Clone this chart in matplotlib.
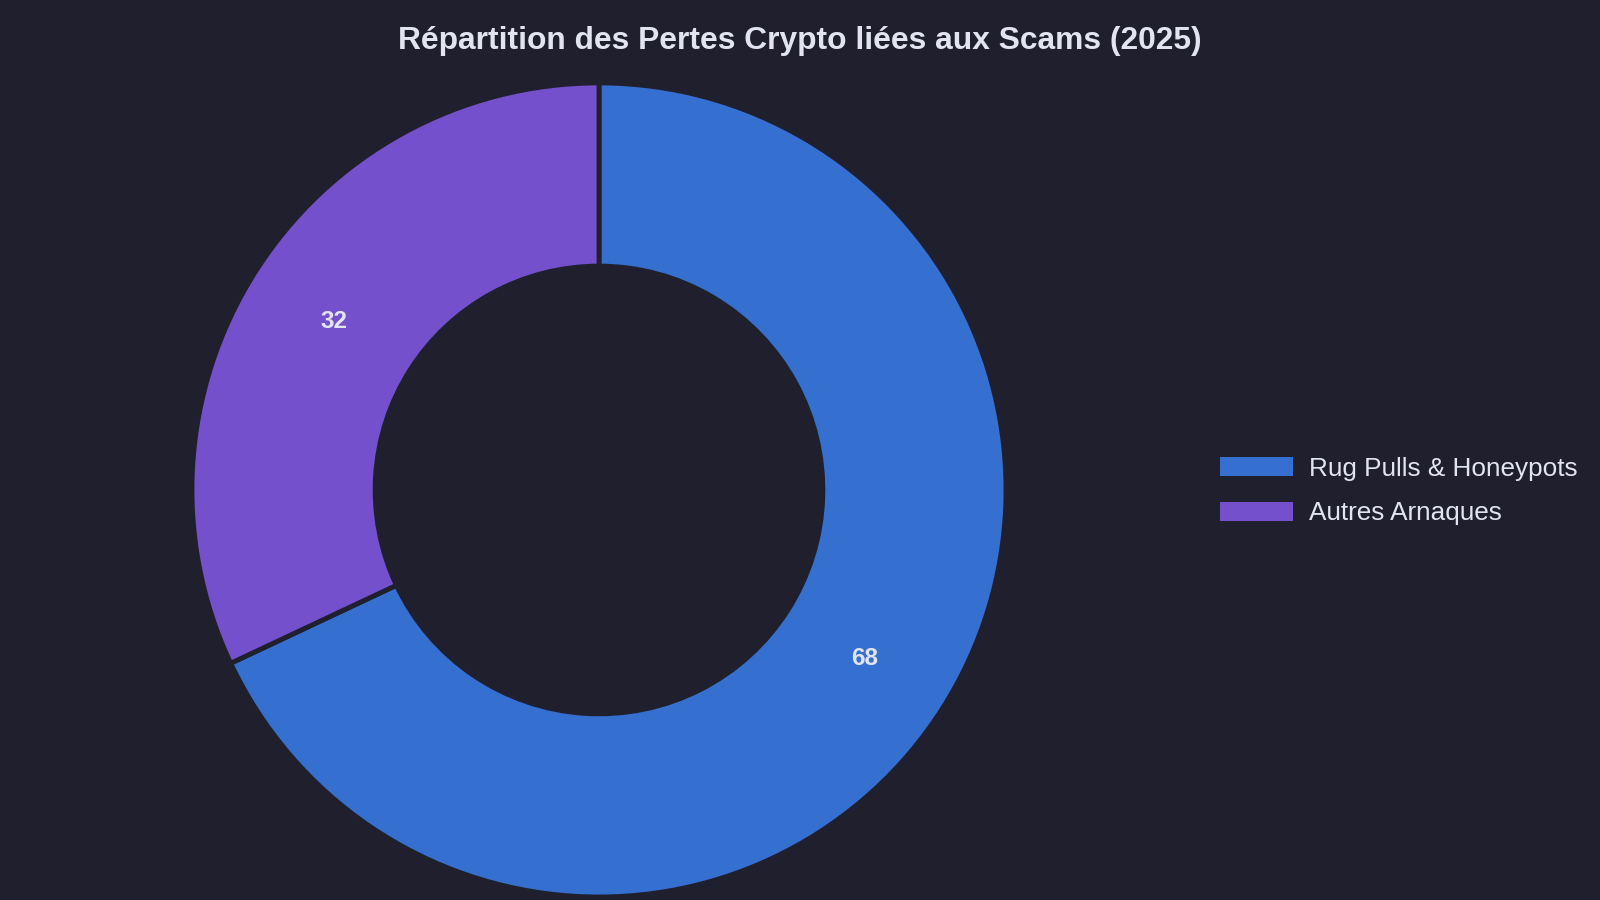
import matplotlib
matplotlib.use("Agg")
import matplotlib.pyplot as plt

# data
labels = ["Rug Pulls & Honeypots", "Autres Arnaques"]
values = [68, 32]
colors = ["#356fd0", "#7450cc"]

bg = "#1f1f2e"
txt = "#e2e5ef"

plt.rcParams["font.family"] = ["Liberation Sans", "DejaVu Sans"]

fig = plt.figure(figsize=(16, 9), dpi=100, facecolor=bg)
# square axes, donut centre at ~(599, 490) px, radius ~405 px
ax = fig.add_axes([0.12125, 0.0056, 0.50625, 0.9])
ax.set_facecolor(bg)

wedges, texts = ax.pie(
    values,
    colors=colors,
    startangle=90,
    counterclock=False,
    radius=1.0,
    labels=[str(v) for v in values],
    labeldistance=0.772,
    wedgeprops=dict(width=0.45, edgecolor=bg, linewidth=3.5),
    textprops=dict(color=txt, fontsize=17.5, fontweight="bold",
                   ha="center", va="center"),
)
for t in texts:
    t.set_horizontalalignment("center")
ax.set_xlim(-0.995, 0.995)
ax.set_ylim(-0.995, 0.995)
ax.axis("off")

fig.text(0.5, 1 - 41 / 900, "Répartition des Pertes Crypto liées aux Scams (2025)",
         ha="center", va="center", color=txt, fontsize=22.9, fontweight="bold")

leg = fig.legend(
    wedges, labels,
    loc="center left",
    bbox_to_anchor=(1196 / 1600, 1 - 491 / 900),
    frameon=False,
    fontsize=18.8,
    labelcolor=txt,
    handlelength=2.8,
    handleheight=0.77,
    handletextpad=0.62,
    labelspacing=0.8,
)
for h in leg.legend_handles:
    h.set_edgecolor("none")

fig.savefig("out.png", dpi=100, facecolor=bg)
